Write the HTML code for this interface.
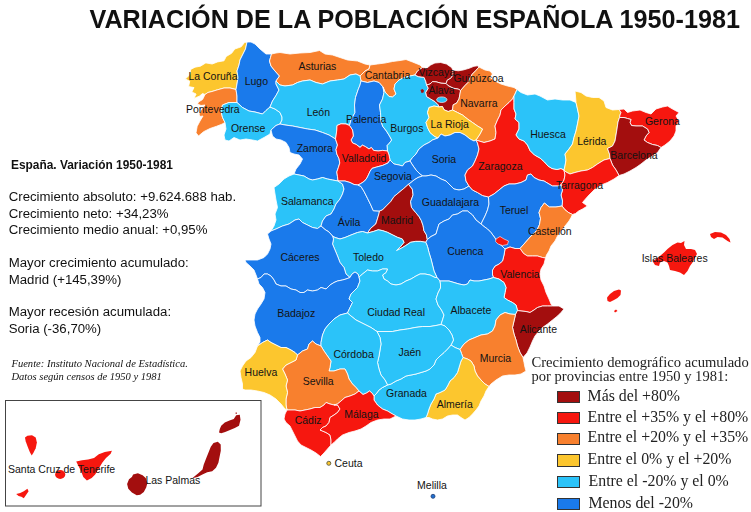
<!DOCTYPE html>
<html><head><meta charset="utf-8">
<style>
html,body{margin:0;padding:0;background:#fff;}
body{width:751px;height:512px;position:relative;overflow:hidden;font-family:"Liberation Sans",sans-serif;color:#111;}
.t{position:absolute;white-space:nowrap;line-height:1;}
#title{left:89.5px;top:7px;font-size:25.18px;font-weight:bold;color:#111;}
.serif{font-family:"Liberation Serif",serif;}
.info{font-size:13.22px;left:8.7px;color:#111;}
.lg{font-family:"Liberation Serif",serif;font-size:15.83px;left:587.6px;color:#222;}
.sw{position:absolute;left:556.6px;width:21px;height:10.5px;border:1px solid #333;}
svg{position:absolute;left:0;top:0;}
</style></head><body>
<svg id="map" width="751" height="512" viewBox="0 0 751 512">
<g stroke="#fff" stroke-opacity="0.82" stroke-width="1" stroke-linejoin="round">
<path fill="#fcc62e" d="M247,42 244.5,42.5 241.2,46.8 234.8,49 231.6,53.3 226.2,56.5 224,60.8 217.6,61.9 212.2,64 205.8,62.9 200.4,66.2 195,67.2 190.7,69.4 189.7,74.8 185.4,79 189.7,81.2 188.6,86.6 194,87.6 191.8,92 196.1,94 194,98.4 199.3,96.2 202.6,93.5 205,94.5 207.9,92.5 212,91.5 217.5,89.8 224,88 230,88 236,89.5 237,84 238,77.5 237,71 239,65 240,60 242.5,55 245.5,49Z"/>
<path fill="#f8802e" d="M236,89.5 230,88 224,88 217.5,89.8 212,91.5 207.9,92.5 205,94.5 202.6,99.5 198.5,102 197.5,104 201,105.5 205,105 201,110 199,114 200,116.5 203,116 200,121 197.2,126.3 196,132.8 198.5,136 203.6,131.7 210,128.5 216.5,126.3 221.9,124.2 225,122.5 222.5,117.5 221,111 222.5,105 229,102.5 237,102.5 237,96Z"/>
<path fill="#1a7aeb" d="M247,42 251,42 255,44 260,49 266,54 271.5,54 270.5,57.5 269.5,61 271,66 275,71 279.5,76 276,81 276,84 279,90 276,95.5 272.5,101 270,107 266,110.5 262.5,114 255,112 249,111 242.5,107.5 237,102.5 237,96 236,89.5 237,84 238,77.5 237,71 239,65 240,60 242.5,55 245.5,49Z"/>
<path fill="#2bc3f9" d="M237,102.5 229,102.5 222.5,105 221,111 222.5,117.5 225,122.5 226,129 224,135 225,140 229,141 234,137.5 240,140 246,139 252.5,140 257.5,141 264,137.5 270,134 271,130 276,125.5 280,124 282,120 282,117 280,112.5 275,109 270,107 266,110.5 262.5,114 255,112 249,111 242.5,107.5Z"/>
<path fill="#f8802e" d="M271.5,54 276,53 280,52.5 290,54 300,53 310,52.5 319.5,50.5 325,54 332.5,55 340,57.5 347.5,60 357.5,61 365,64 370,65 369,69 365,71 360,76 356,74 350,75 344,79 337.5,80 330,81 322.5,84 316,82.5 310,80 302.5,81 297.5,82.5 292.5,85 285,86 280,85 276,81 279.5,76 275,71 271,66 269.5,61 270.5,57.5Z"/>
<path fill="#f8802e" d="M370,65 377.5,64 385,63 392.5,61.5 400,60.5 406,59.5 412.5,62 420,65 422.5,67.5 417.5,71 415,75 410,76 404,77.5 399,80 395,84 394,89 396,94 392.5,97 389,96.5 385,92 383,87 379,82.5 374,81 367.5,82.5 361,81 360,76 365,71 369,69Z"/>
<path fill="#2bc3f9" d="M276,81 280,85 285,86 292.5,85 297.5,82.5 302.5,81 310,80 316,82.5 322.5,84 330,81 337.5,80 344,79 350,75 356,74 360,76 361,81 360,85 358,90 355.5,97.5 354.5,105 355,112.5 351,120 349.5,125.5 346,124 341,123.8 337,125.5 336.8,130 336,136 335.5,139 329,135 322.5,132.5 315,130 307.5,129 300,127.5 292.5,126 285,125 280,124 282,120 282,117 280,112.5 275,109 270,107 272.5,101 276,95.5 279,90 276,84Z"/>
<path fill="#1a7aeb" d="M361,81 367.5,82.5 374,81 379,82.5 383,87 384,92.5 382.5,99 379.5,105 380.5,112.5 381,121 382.7,126.3 386.4,131 389.5,136 391.7,140 389.5,143 387.2,145.5 387.5,151 382.7,150.4 378.2,151 373.6,150.4 371.4,147.5 369,149 365.4,146.6 362.4,145.2 360,147.4 356.3,144.5 352.6,143 351,140 353.3,136 352.5,130 349.5,125.5 351,120 355,112.5 354.5,105 355.5,97.5 358,90 360,85Z"/>
<path fill="#2bc3f9" d="M383,87 385,92 389,96.5 392.5,97 396,94 394,89 395,84 399,80 404,77.5 410,76 415,75 418.3,76.6 424.1,77.4 425.8,81.6 426.6,85 428.3,88.2 425.8,92.4 426.6,96.5 430.7,99 434.9,101.5 438.2,104.8 439,107 434,106 429,107.5 427.5,112.5 429,117.5 426,122.5 427.5,127.5 430,132.5 434,136 438,138 432.5,140 429,142.5 424,145 419,149 416,154 412.5,157.5 410,161 405,162.5 402.5,166 399,165 394,164 390,160 389,155 387.5,151 387.2,145.5 389.5,143 391.7,140 389.5,136 386.4,131 382.7,126.3 381,121 380.5,112.5 379.5,105 382.5,99 384,92.5Z"/>
<path fill="#a30e0e" d="M422.5,67.5 426.6,68.3 430.7,65 434.9,63 440.7,62.5 446.5,64 451.5,67.5 453,70 453.2,74.9 450.7,78.3 447.4,80 446,83.5 441,83.2 436,81.8 432.5,81.6 430,84 426.6,85 425.8,81.6 424.1,77.4 418.3,76.6 415,75 417.5,71Z"/>
<path fill="#a30e0e" d="M453,70 458.2,70.8 463.1,70 469,68.3 473.9,66.3 477.3,65.8 479,67 475.6,70.8 472.3,74.1 469.8,78.3 468.1,82.4 464.8,85.7 460.6,90.5 458.2,89.1 453.2,88.2 448.2,85.7 446,83.5 447.4,80 450.7,78.3 453.2,74.9Z"/>
<path fill="#a30e0e" d="M426.6,85 430,84 432.5,81.6 436,81.8 441,83.2 446,83.5 448.2,85.7 453.2,88.2 458.2,89.1 460.6,90.5 459.8,94.9 459,99 456.5,103.2 453.2,104.8 452.5,110 448.2,111.5 444,109.8 442.4,106.5 439,107 438.2,104.8 434.9,101.5 430.7,99 426.6,96.5 425.8,92.4 428.3,88.2Z"/>
<path fill="#f8802e" d="M479,67 485,70 490,71 492.5,74 490,77.5 495,81 501,84 507.5,86 514,87.5 517,89.5 515,94 514,96 512.5,99 509,102.5 505,106 501,110 500,115 497.5,120 495,126 496,132.5 495,139 490,141 484,142.5 479,141 476,140 480,134 482.5,129 477.5,126 472.5,122.5 467.5,119 462.5,115 457.5,112.5 452.5,110 453.2,104.8 456.5,103.2 459,99 459.8,94.9 460.6,90.5 464.8,85.7 468.1,82.4 469.8,78.3 472.3,74.1 475.6,70.8Z"/>
<path fill="#fcc62e" d="M439,107 442.4,106.5 444,109.8 448.2,111.5 452.5,110 457.5,112.5 462.5,115 467.5,119 472.5,122.5 477.5,126 482.5,129 480,134 476,140 474,141 470,139 465,135 460,132.5 455,132.5 450,135 445,136 441,134 438,138 434,136 430,132.5 427.5,127.5 426,122.5 429,117.5 427.5,112.5 429,107.5 434,106Z"/>
<path fill="#1a7aeb" d="M438,138 441,134 445,136 450,135 455,132.5 460,132.5 465,135 470,139 474,141 476,140 477.5,143 479,149 477.5,155 475,161 472.5,166 467.5,170 465,175 466,181 469,186 464,189 459,190 454,189 450,185 446,181 441,179 436,176 431,175 426,176 422.5,176 420,174 416,170 412.5,165 410,161 412.5,157.5 416,154 419,149 424,145 429,142.5 432.5,140Z"/>
<path fill="#1a7aeb" d="M280,124 285,125 292.5,126 300,127.5 307.5,129 315,130 322.5,132.5 329,135 335.5,139 337.5,145 336,149.6 336.8,154 339,158.6 339.8,163 338.3,167.7 336.8,172 337.5,176.7 338,181 332.5,180 327.5,179 322.5,177.5 317.5,179 312.5,180 309,179 304,176 299,175 294,174 296,169 300,164 302.5,159 299,155 294,154 290,152.5 289,147.5 286,142.5 281,140 276,139 272.5,136 271,130 276,125.5Z"/>
<path fill="#f6170f" d="M335.5,139 336,136 336.8,130 337,125.5 341,123.8 346,124 349.5,125.5 352.5,130 353.3,136 351,140 352.6,143 356.3,144.5 360,147.4 362.4,145.2 365.4,146.6 369,149 371.4,147.5 373.6,150.4 378.2,151 382.7,150.4 387.5,151 389,155 390,160 388,163 382.7,165.4 376.7,167 372,168.4 370,171.4 368.4,175 366.9,178 364.6,181 360.9,183.5 358,185 354,184.5 350,182.5 345,181 338,181 337.5,176.7 336.8,172 338.3,167.7 339.8,163 339,158.6 336.8,154 336,149.6 337.5,145Z"/>
<path fill="#2bc3f9" d="M294,174 299,175 304,176 309,179 312.5,180 317.5,179 322.5,177.5 327.5,179 332.5,180 338,181 342.5,184 344,189 342.5,194 340,199 336,204 334,209 331,214 326,216 322.5,221 321,226 317.5,228.5 312.5,227.5 307.5,225 302.5,222.5 299,219 295,220 289,224 282.5,226 276,229 271,231 274,226 276,220 275,214 277.5,207.5 276,200 275,194 274,187.5 279,184 284,179 289,176Z"/>
<path fill="#1a7aeb" d="M338,181 345,181 350,182.5 354,184.5 358,185 361,186.5 364.1,191.6 367.5,198.3 370.8,205 373.3,210.7 379.5,211 379,213.5 377.4,219 375.8,224 370.8,228.2 367.5,233 362.5,231.5 357.5,232.5 351,235 345,237.5 340,239 335,237.5 332.5,236 329,232 325,229.5 321,226 322.5,221 326,216 331,214 334,209 336,204 340,199 342.5,194 344,189 342.5,184Z"/>
<path fill="#1a7aeb" d="M358,185 360.9,183.5 364.6,181 366.9,178 368.4,175 370,171.4 372,168.4 376.7,167 382.7,165.4 388,163 390,160 394,164 399,165 402.5,166 405,162.5 410,161 412.5,165 416,170 420,174 422.5,176 418,177.5 414,180 411,182.5 408.5,184.3 404,188.3 399,192.4 394,196.6 390.7,201.6 386.6,205.7 382.4,210 379.5,211 373.3,210.7 370.8,205 367.5,198.3 364.1,191.6 361,186.5Z"/>
<path fill="#a30e0e" d="M379.5,211 382.4,210 386.6,205.7 390.7,201.6 394,196.6 399,192.4 404,188.3 408.5,184.3 412.3,189.1 413.1,194.9 410.6,201.6 411.5,207.4 415.6,212.4 419,216.5 421.4,220.7 423.1,225.7 423.9,230.6 426.4,234.8 427.3,239.5 425.8,242.3 420.6,241.4 415.6,241.4 410.6,242.3 405.7,245.6 401.5,248.1 396.5,250.6 400.7,246.4 404,242.3 402.3,239 397.4,237.3 392.4,234.8 387.4,232.3 382.4,230.6 378.3,229.8 373.3,231.5 367.5,233 370.8,228.2 375.8,224 377.4,219 379,213.5Z"/>
<path fill="#1a7aeb" d="M422.5,176 426,176 431,175 436,176 441,179 446,181 450,185 454,189 459,190 464,189 469,186 472.5,190 477.5,192.5 482.5,195.5 488.5,197 489,204 487.5,210 485,216 482.5,221 481,224 476,220 472.5,215 467.5,211 462.5,211 457.5,214 452.5,215 449,219 444,221 439,224 437.5,229 436,234 431,236.5 427.3,239.5 426.4,234.8 423.9,230.6 423.1,225.7 421.4,220.7 419,216.5 415.6,212.4 411.5,207.4 410.6,201.6 413.1,194.9 412.3,189.1 408.5,184.3 411,182.5 414,180 418,177.5Z"/>
<path fill="#f6170f" d="M476,140 479,141 484,142.5 490,141 495,139 496,132.5 495,126 497.5,120 500,115 501,110 505,106 509,102.5 512.5,99 514,96 514,102.5 514,109 516,114 515,119 519,122.5 519,129 516,135 519,139 524,141 527.5,145 530,150.5 534.5,155 540,158 544.5,162 548,166 552,168.5 557,169.5 561,168.5 564,170 565,175 564,180 561,185 557.5,186 552.5,186 549,184 544,181 539,180 534,177.5 531,174 527.5,175 526,180 521,182.5 515,184 509,184 504,186 499,190 494,194 488.5,197 482.5,195.5 477.5,192.5 472.5,190 469,186 466,181 465,175 467.5,170 472.5,166 475,161 477.5,155 479,149 477.5,143Z"/>
<path fill="#2bc3f9" d="M517,89.5 521,92.5 527.5,95 535,94 540,96 547.5,100 555,99 562.5,100 570,100 576,102.5 577.5,109 579,116 577.5,124 576,131 574,137.5 572.5,144 569,149 565,154 566,160 565,166 564,170 561,168.5 557,169.5 552,168.5 548,166 544.5,162 540,158 534.5,155 530,150.5 527.5,145 524,141 519,139 516,135 519,129 519,122.5 515,119 516,114 514,109 514,102.5 514,96 515,94Z"/>
<path fill="#fcc62e" d="M576,102.5 575.5,96 575,91 581,92.5 586,96 592.5,97.5 599,97.5 604,101 606,107.5 612.5,110 619,109.5 621,112.5 620,115 619.5,117.5 618,122 617,129 616,135 615,141 612.5,146 607.5,148.5 609.5,154 610,158.5 604,160 597.5,164 592.5,167.5 587.5,170 581,171 575,172.5 570,174 566,172 564,170 565,166 566,160 565,154 569,149 572.5,144 574,137.5 576,131 577.5,124 579,116 577.5,109Z"/>
<path fill="#f6170f" d="M619,109.5 624,109 627.5,112.5 632.5,111 640,110 646,112.5 651,114 656,109 662.5,107 667.5,106 672.5,109 679,112.5 676,116 679,121 676,126 676,131 674,136 670,141 665,145 661,147.5 657.5,145.5 652.5,144.5 647.5,142.5 644,140 646,136 649,132.5 647.5,129 642.5,126 636,126 631.5,125.5 630,122.5 631,119.5 627.5,118.5 624,117.5 619.5,117.5 620,115 621,112.5Z"/>
<path fill="#a30e0e" d="M619.5,117.5 624,117.5 627.5,118.5 631,119.5 630,122.5 631.5,125.5 636,126 642.5,126 647.5,129 649,132.5 646,136 644,140 647.5,142.5 652.5,144.5 657.5,145.5 661,147.5 657.5,152.5 652.5,156 646,160 641,164 636,167.5 630,171 624,174 619,175.5 616,170 612.5,165 610,158.5 609.5,154 607.5,148.5 612.5,146 615,141 616,135 617,129 618,122Z"/>
<path fill="#f6170f" d="M610,158.5 612.5,165 616,170 619,175.5 614,179 607.5,182.5 600,185.5 594,190 589,195 585,199.5 582.5,202.5 587.4,206 582.5,209 578.6,211 575.5,213.5 572.5,214.5 568.8,212.7 565,209.8 562,206 562.5,201 561,195 562.5,190 561,185 564,180 565,175 564,170 566,172 570,174 575,172.5 581,171 587.5,170 592.5,167.5 597.5,164 604,160Z"/>
<path fill="#1a7aeb" d="M488.5,197 494,194 499,190 504,186 509,184 515,184 521,182.5 526,180 527.5,175 531,174 534,177.5 539,180 544,181 549,184 552.5,186 557.5,186 561,185 562.5,190 561,195 562.5,201 562,206 556,207 549.3,207 544.4,203 541,207.5 539,212.5 540.5,218.5 539.5,224.5 537,230 534,233.5 531,236 527.5,240 524,244 520,248.5 515,248.5 510,247 505,249 502,246 498,243 495,238 491,232.5 487.5,229 484,226.5 481,224 482.5,221 485,216 487.5,210 489,204Z"/>
<path fill="#f8802e" d="M562,206 565,209.8 568.8,212.7 572.5,214.5 571,217.5 569,221 565,226 561,231 557.5,236 555,241 551,246 549,251 546.5,255 545.5,258 542.5,257.5 537.5,256 532.5,256 527.5,256 523.5,253.5 520,248.5 524,244 527.5,240 531,236 534,233.5 537,230 539.5,224.5 540.5,218.5 539,212.5 541,207.5 544.4,203 549.3,207 556,207Z"/>
<path fill="#f6170f" d="M520,248.5 523.5,253.5 527.5,256 532.5,256 537.5,256 542.5,257.5 545.5,258 544,264 541,269 540,274 541,280 544,286 546,292.5 549,299 551,304 552.5,306 547.5,306 542.5,306 537.5,307.5 534,310 530,312.5 526,311.5 521,311 517.5,310.5 516,305 512.5,302.5 507.5,300 504,297.5 505,292.5 506,287.5 504,282.5 499,279 493.5,277.5 492.5,275 492.5,270 495,266 499,264 502.5,261 504,255 505,249 510,247 515,248.5Z"/>
<path fill="#1a7aeb" d="M427.3,239.5 431,236.5 436,234 437.5,229 439,224 444,221 449,219 452.5,215 457.5,214 462.5,211 467.5,211 472.5,215 476,220 481,224 484,226.5 487.5,229 491,232.5 495,238 498,243 502,246 505,249 504,255 502.5,261 499,264 495,266 492.5,270 492.5,275 493.5,277.5 489,279 484,280 479,281 474,281 470,280 467.5,284 464,285 459,284 454,282.5 449,281 444,281 440,281 437,277.5 434,271 432.5,265 431,259 429,252.5 427.5,246.5 425.8,242.3Z"/>
<path fill="#2bc3f9" d="M332.5,236 335,237.5 340,239 345,237.5 351,235 357.5,232.5 362.5,231.5 367.5,233 373.3,231.5 378.3,229.8 382.4,230.6 387.4,232.3 392.4,234.8 397.4,237.3 402.3,239 404,242.3 400.7,246.4 396.5,250.6 401.5,248.1 405.7,245.6 410.6,242.3 415.6,241.4 420.6,241.4 425.8,242.3 427.5,246.5 429,252.5 431,259 432.5,265 434,271 437,277.5 435,277.5 430,275 425,274 420,274 416,276 411,279 406,281 401,284 396,285 391,284 387.5,281 384,279 382.5,275 386,272.5 387.5,269 382.5,269 377.5,271 372.5,271 367.5,270 362.5,274 359,277 358,274 355,272 352,274 350,277.5 346,274 344,267.5 340,262.5 337.5,256 335,250 332.5,244 333.5,239Z"/>
<path fill="#1a7aeb" d="M271,231 276,229 282.5,226 289,224 295,220 299,219 302.5,222.5 307.5,225 312.5,227.5 317.5,228.5 321,226 325,229.5 329,232 332.5,236 333.5,239 332.5,244 335,250 337.5,256 340,262.5 344,267.5 346,274 350,277.5 346,279 342.5,280 337.5,281 334,282.5 330,285 326,289 321,287.5 317.5,290 312.5,291 307.5,290 304,292.5 300,292.5 296,290 291,289 286,286 281,286 276,284 274,280 271,276 267.5,274 264,274 261,277.5 257.5,279 256,275 254,270 250,266 246,262.5 245,260 251,260 257.5,260 264,257.5 267.5,254 270,249 271,244 269,239 267.5,234Z"/>
<path fill="#1a7aeb" d="M257.5,279 261,277.5 264,274 267.5,274 271,276 274,280 276,284 281,286 286,286 291,289 296,290 300,292.5 304,292.5 307.5,290 312.5,291 317.5,290 321,287.5 326,289 330,285 334,282.5 337.5,281 342.5,280 346,279 350,277.5 352,274 355,272 358,274 359,277 360,281 357.5,287.5 351,294 349,299 352.5,302.5 350,307.5 347.5,313 340,315 334,319 329,324 325,329 322.5,335 321,342.5 321,346 316,344 312.5,341 309,344 307.5,349 302.5,351 297.5,355 295,352.5 291,350 286,347.5 281,347.5 276,345 271,342.5 267.5,340 262.5,342.5 257.5,346 260,342 260,337.5 257.5,332.5 255,326 254,320 255,314 257.5,309 261,304 264,299 265,292.5 262.5,287.5 259,284Z"/>
<path fill="#2bc3f9" d="M359,277 362.5,274 367.5,270 372.5,271 377.5,271 382.5,269 387.5,269 386,272.5 382.5,275 384,279 387.5,281 391,284 396,285 401,284 406,281 411,279 416,276 420,274 425,274 430,275 435,277.5 437,277.5 440,281 440.5,284 440.5,288 438,293 436,299 438,305 441.5,310 444,315 442.5,320 441,324.5 436,325.5 430,326.5 422.5,326.5 415,327.5 407.5,329 400,330 392.5,331.5 385,331.5 377,331.5 371,327.5 366,325 361,322.5 356,320 351,316 347.5,313 350,307.5 352.5,302.5 349,299 351,294 357.5,287.5 360,281Z"/>
<path fill="#2bc3f9" d="M440,281 444,281 449,281 454,282.5 459,284 464,285 467.5,284 470,280 474,281 479,281 484,280 489,279 493.5,277.5 499,279 504,282.5 506,287.5 505,292.5 504,297.5 507.5,300 512.5,302.5 516,305 517.5,310.5 515.5,314.5 510,314 505,312.5 500,315 496,320 495,326 492.5,331 487.5,334 481,335 475,337.5 469,340 464,344 460,349.5 455,347.5 451,345 453.5,340 452,335 449,330 445,326 441,324.5 442.5,320 444,315 441.5,310 438,305 436,299 438,293 440.5,288 440.5,284Z"/>
<path fill="#a30e0e" d="M517.5,310.5 521,311 526,311.5 530,312.5 534,310 537.5,307.5 542.5,306 547.5,306 552.5,306 559,306 564,309 561,312.5 557.5,316 552.5,320 547.5,324 542.5,327.5 539,331 535,336 532.5,341 530,347 527,353 523,357.5 520,352.5 517.5,346 516,340 514,334 512.5,327.5 514,321 515.5,314.5Z"/>
<path fill="#f8802e" d="M460,349.5 464,344 469,340 475,337.5 481,335 487.5,334 492.5,331 495,326 496,320 500,315 505,312.5 510,314 515.5,314.5 514,321 512.5,327.5 514,334 516,340 517.5,346 520,352.5 523,357.5 524,362.5 525,367.5 526,371 521,374 515,375 509,375 502.5,376 496,380 491,384 489,386.5 485,384 481,380 477.5,376 475,371 474,366 471,361 467.5,359 463,357.5 461.5,353.5Z"/>
<path fill="#fcc62e" d="M463,357.5 467.5,359 471,361 474,366 475,371 477.5,376 481,380 485,384 489,386.5 486,391 484,396 481,401 479,406 476,410 472.5,414 469,417.5 465,420 461,417.5 457.5,415 452.5,415 447.5,416 442.5,419 437.5,420 432.5,419 429,417.5 426,417.5 427.5,414 429,409 431,404 434,399 436,394 440,392.5 445,390 447.5,386 450,381 454,377.5 457.5,372.5 459,367.5 461,361Z"/>
<path fill="#2bc3f9" d="M463,357.5 461,361 459,367.5 457.5,372.5 454,377.5 450,381 447.5,386 445,390 440,392.5 436,394 434,399 431,404 429,409 427.5,414 426,417.5 421,419 415,420 409,420 402.5,419 396,416 392.5,414 387.5,411 382.5,409 377.5,405 374,400 374,396 376,394 379,390 382.5,387.5 387.5,385 391,384 396,381 401,379 406,376 411,375 416,374 421,372.5 426,371 430,369 434,365 436,360 440,356 444,352.5 447.5,349 451,345 455,347.5 460,349.5 461.5,353.5Z"/>
<path fill="#2bc3f9" d="M377,331.5 385,331.5 392.5,331.5 400,330 407.5,329 415,327.5 422.5,326.5 430,326.5 436,325.5 441,324.5 445,326 449,330 452,335 453.5,340 451,345 447.5,349 444,352.5 440,356 436,360 434,365 430,369 426,371 421,372.5 416,374 411,375 406,376 401,379 396,381 391,384 387.5,385 385,380 381,375 379,369 377.5,362.5 379,356 380,350 381,344 380,337.5Z"/>
<path fill="#2bc3f9" d="M347.5,313 351,316 356,320 361,322.5 366,325 371,327.5 377,331.5 380,337.5 381,344 380,350 379,356 377.5,362.5 379,369 381,375 385,380 387.5,385 382.5,387.5 379,390 376,394 374,396 372,393 369.5,391 366.5,393 363,394.5 359,391 356,387.5 352.5,384 349,379 347.5,374 345,369 340,369 334,371 329,371 330,367.5 331,361 327.5,356 324,351 321,346 321,342.5 322.5,335 325,329 329,324 334,319 340,315Z"/>
<path fill="#f8802e" d="M321,346 316,344 312.5,341 309,344 307.5,349 302.5,351 297.5,355 296,360 291,362.5 286,365 282.5,369 285,374 287.5,380 286,386 287.5,392.5 286,399 286,405 287,410 291,410 295,410 300,411 305,410 310,409 315,407.5 320,407.5 324,405 326,402.5 330,404 334,405 337.5,404 341,401 345,397.5 350,396 355,394 359,391 356,387.5 352.5,384 349,379 347.5,374 345,369 340,369 334,371 329,371 330,367.5 331,361 327.5,356 324,351Z"/>
<path fill="#fcc62e" d="M257.5,346 262.5,342.5 267.5,340 271,342.5 276,345 281,347.5 286,347.5 291,350 295,352.5 297.5,355 296,360 291,362.5 286,365 282.5,369 285,374 287.5,380 286,386 287.5,392.5 286,399 286,405 287,410 285,409 281,404 276,399 270,395 264,392.5 257.5,391 251,390 245,390 242.5,389 242.5,384 241,377.5 240,371 242.5,366 246,361 251,357.5 255,352.5Z"/>
<path fill="#f6170f" d="M334,405 330,404 326,402.5 324,405 320,407.5 315,407.5 310,409 305,410 300,411 295,410 291,410 287,410 285,414 284,419 286,422.5 290,426 292.5,431 295,436 297.5,441 301,445 306,447.5 311,450 316,453 320.5,456.5 324,453 327,449.5 331,445 331,440 330,435 326,432.5 322.5,431 320,430 322.5,427.5 326,426 329,422.5 330,417.5 334,415 337.5,412.5 340,409 337.5,405Z"/>
<path fill="#f6170f" d="M334,405 337.5,405 340,409 337.5,412.5 334,415 330,417.5 329,422.5 326,426 322.5,427.5 320,430 322.5,431 326,432.5 330,435 331,440 331,445 334,442.5 337.5,439 342.5,435 349,432.5 355,431 361,429 366,426 371,422.5 377.5,420 384,419 390,419 396,416 392.5,414 387.5,411 382.5,409 377.5,405 374,400 374,396 372,393 369.5,391 366.5,393 363,394.5 359,391 355,394 350,396 345,397.5 341,401 337.5,404Z"/>
<path fill="#f6170f" stroke-width="0.7" d="M496,239 500,236.5 504,239 508.5,241 507.5,244.5 502.5,245.5 498,244 495.5,241.5Z"/>
<path fill="#a30e0e" stroke="none" d="M420.5,90 422.5,89 424,90.5 423.5,92.5 421.5,93Z"/>
<path fill="#f6170f" stroke="none" d="M652.5,261 656,259 660,256 664,252.5 667.5,249 672.5,245 677.5,242.5 681,243 684.5,241 684,245 686,249 691,249 695,250 697,254 695,257.5 692.5,262.5 690,266 687.5,271 684,275 680,272.5 675,271 670,270 669,266 667.5,262.5 664,261 660,262.5 659,266 655,265Z"/>
<path fill="#f6170f" stroke="none" d="M710,234 715,232 721,232.5 726,235 729.5,239 730.5,242.5 727.5,241 722.5,237.5 717.5,237 714,239 711,237Z"/>
<path fill="#f6170f" stroke="none" d="M607.5,301 607,297.5 610,294 614,291 619,289.5 621,290.5 620.5,295 617.5,298 614,300 610,302Z"/>
<path fill="#f6170f" stroke="none" d="M614,311 616,309.5 617.5,311 615,312.5Z"/>
<path fill="#f6170f" stroke="none" d="M25,437.6 27.4,435.7 32,435.2 35.7,437.6 36.9,442.4 35.7,448.3 33.3,453 31.7,455.5 29.8,452 27.4,446 25.7,441.2Z"/>
<path fill="#f6170f" stroke="none" d="M16.2,494 20.2,492.9 23.8,491.2 27.4,488.8 28.6,491.2 26.2,494.8 23.8,498.3 21.4,496.7 18.6,496Z"/>
<path fill="#f6170f" stroke="none" d="M76.2,461.4 82.1,460.2 88.1,459.5 94,457.9 98.8,454.3 104.8,451.9 111.9,450.7 110.7,453.8 106,457.9 102.4,462.6 98.8,468.6 95.2,474.5 91.7,478.1 86.9,480.5 83.3,476.9 81,471 78.6,466.2Z"/>
<path fill="#a30e0e" stroke="none" d="M133.1,474.5 137.9,473.3 142.6,475.2 145.7,478.1 147.4,482.9 146.2,487.6 143.8,491.9 140.2,494.8 136.7,495.2 131.9,492.4 128.3,488.8 127.1,484 129,479.3 131.9,476.9Z"/>
<path fill="#a30e0e" stroke="none" d="M213.5,443 217.8,441.8 220.7,444.6 220.8,450.7 219.6,456.7 218.4,462.8 216,467.8 212.2,471.2 207.2,472.2 202.4,474.5 197.6,477 192.2,478.2 198,473.5 202.5,469.5 203.7,464.8 206,458.8 208.4,452.8 210.8,446.8Z"/>
<path fill="#a30e0e" stroke="none" d="M219,432.4 219.8,429 221.2,425.7 224.8,422.4 229.5,420.5 233.8,419 236.2,415.2 239.8,414.8 240.5,419.8 239,425.7 234.8,428.1 230,430 225.2,431.9 221.2,433.3Z"/>
<path fill="#a30e0e" stroke="none" d="M235.6,412.6 236.8,412.4 236.9,413.8 235.7,414Z"/>
<ellipse fill="#f6170f" stroke="none" cx="60.2" cy="474.5" rx="5.1" ry="4.4"/>
<ellipse fill="#2bc3f9" stroke="#fff" stroke-width="0.8" cx="441.8" cy="99.7" rx="5.2" ry="2.8"/>
</g>
<circle cx="328.8" cy="463.3" r="2" fill="#fcc62e" stroke="#5a5a40" stroke-width="0.9"/>
<circle cx="433" cy="496.3" r="2" fill="#1f6fd0" stroke="#2a4a80" stroke-width="0.9"/>
<rect x="5.5" y="400.5" width="255.5" height="105.5" fill="none" stroke="#444" stroke-width="1"/>
<g font-family="Liberation Sans, sans-serif" font-size="10.5" fill="#131313">
<text x="188.45" y="80.3">La Coruña</text>
<text x="244.7" y="84.55">Lugo</text>
<text x="185.95" y="112.8">Pontevedra</text>
<text x="230.95" y="132.05">Orense</text>
<text x="298.45" y="70.3">Asturias</text>
<text x="306.7" y="115.8">León</text>
<text x="364.7" y="79.15">Cantabria</text>
<text x="345.95" y="123.3">Palencia</text>
<text x="296.7" y="152.05">Zamora</text>
<text x="341.7" y="162.05">Valladolid</text>
<text x="390.2" y="132.3">Burgos</text>
<text x="418.45" y="75.8">Vizcaya</text>
<text x="453.45" y="82.05">Guipúzcoa</text>
<text x="428.45" y="93.95">Álava</text>
<text x="460.2" y="107.05">Navarra</text>
<text x="430.45" y="127.65">La Rioja</text>
<text x="431.7" y="163.3">Soria</text>
<text x="530.2" y="138.3">Huesca</text>
<text x="577.2" y="144.55">Lérida</text>
<text x="644.95" y="125.3">Gerona</text>
<text x="610.35" y="158.8">Barcelona</text>
<text x="555.9" y="188.8">Tarragona</text>
<text x="478.2" y="170.3">Zaragoza</text>
<text x="499.7" y="213.8">Teruel</text>
<text x="527.95" y="235.3">Castellón</text>
<text x="280.95" y="205.3">Salamanca</text>
<text x="337.7" y="226.3">Ávila</text>
<text x="373.95" y="179.55">Segovia</text>
<text x="381" y="223.8">Madrid</text>
<text x="421.8" y="206.15">Guadalajara</text>
<text x="447.2" y="255.3">Cuenca</text>
<text x="280.45" y="260.8">Cáceres</text>
<text x="277.2" y="316.55">Badajoz</text>
<text x="352.95" y="260.8">Toledo</text>
<text x="367.2" y="315.8">Ciudad Real</text>
<text x="450.45" y="313.85">Albacete</text>
<text x="500.2" y="278.3">Valencia</text>
<text x="519.7" y="332.8">Alicante</text>
<text x="244.6" y="376.3">Huelva</text>
<text x="302.75" y="385.3">Sevilla</text>
<text x="294.7" y="423.8">Cádiz</text>
<text x="344.2" y="418.3">Málaga</text>
<text x="333.45" y="358.3">Córdoba</text>
<text x="398.45" y="356.3">Jaén</text>
<text x="386.1" y="397.3">Granada</text>
<text x="436.7" y="407.8">Almería</text>
<text x="479.7" y="361.55">Murcia</text>
<text x="641.7" y="261.8">Islas Baleares</text>
<text x="8" y="472.8">Santa Cruz de Tenerife</text>
<text x="145.4" y="483.8">Las Palmas</text>
<text x="334.5" y="466.8">Ceuta</text>
<text x="417.1" y="488.8">Melilla</text>
</g>
</svg>
<div id="txt" style="position:absolute;left:0;top:0;width:751px;height:512px;opacity:0.999;will-change:opacity;">
<div id="title" class="t">VARIACIÓN DE LA POBLACIÓN ESPAÑOLA 1950-1981</div>
<div class="t" style="left:11px;top:160px;font-size:11.9px;font-weight:bold;">España. Variación 1950-1981</div>
<div class="t info" style="top:189.6px;">Crecimiento absoluto: +9.624.688 hab.</div>
<div class="t info" style="top:206.7px;">Crecimiento neto: +34,23%</div>
<div class="t info" style="top:223.1px;">Crecimiento medio anual: +0,95%</div>
<div class="t info" style="top:255.5px;">Mayor crecimiento acumulado:</div>
<div class="t info" style="top:272.7px;">Madrid (+145,39%)</div>
<div class="t info" style="top:305px;">Mayor recesión acumulada:</div>
<div class="t info" style="top:322.3px;">Soria (-36,70%)</div>
<div class="t serif" style="left:11.5px;top:358.5px;font-size:10.54px;font-style:italic;">Fuente: Instituto Nacional de Estadística.</div>
<div class="t serif" style="left:11.5px;top:371.6px;font-size:10.54px;font-style:italic;">Datos según censos de 1950 y 1981</div>
<div class="t serif" style="left:531.5px;top:355.2px;font-size:14.6px;color:#222;">Crecimiento demográfico acumulado</div>
<div class="t serif" style="left:531.5px;top:368.8px;font-size:14.56px;color:#222;">por provincias entre 1950 y 1981:</div>
<div class="sw" style="top:390.7px;background:#a30e0e;"></div><div class="t lg" style="top:388px;">Más del +80%</div>
<div class="sw" style="top:411.9px;background:#f6170f;"></div><div class="t lg" style="top:409px;">Entre el +35% y el +80%</div>
<div class="sw" style="top:432.6px;background:#f8802e;"></div><div class="t lg" style="top:429.2px;">Entre el +20% y el +35%</div>
<div class="sw" style="top:454.3px;background:#fcc62e;"></div><div class="t lg" style="top:451px;">Entre el 0% y el +20%</div>
<div class="sw" style="top:475.5px;background:#2bc3f9;"></div><div class="t lg" style="top:472.6px;left:588.6px;">Entre el -20% y el 0%</div>
<div class="sw" style="top:497.5px;background:#1a7aeb;"></div><div class="t lg" style="top:494.7px;left:588.4px;">Menos del -20%</div>
</div>
</body></html>
